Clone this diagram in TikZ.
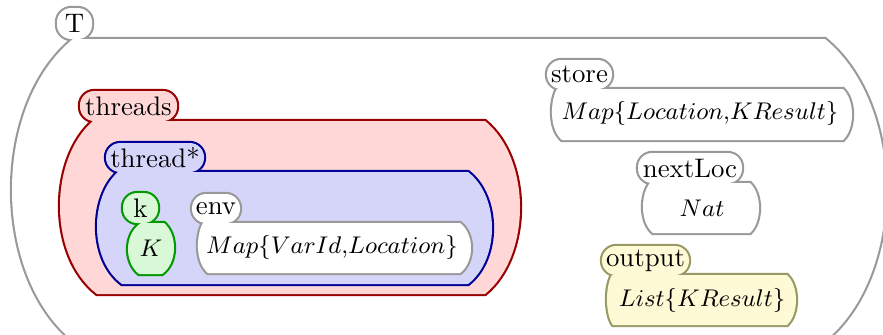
\documentclass[tikz,border=0pt]{standalone}
\definecolor{kgray}{HTML}{999999}
\definecolor{kred}{HTML}{990000}
\definecolor{kredf}{HTML}{FFD7D7}
\definecolor{kblue}{HTML}{000099}
\definecolor{kbluef}{HTML}{D5D5FA}
\definecolor{kgreen}{HTML}{009900}
\definecolor{kgreenf}{HTML}{D8F8D8}
\definecolor{kolive}{HTML}{999966}
\definecolor{kolivef}{HTML}{FFFAD6}
\tikzset{
  body/.style n args={8}{insert path={(#1,#4) -- (#6,#4)
    .. controls ({#6+(#7-#6)/0.75},{#4+0.22*(#5-#4)}) and ({#8+(#7-#8)/0.75},{#5-0.22*(#5-#4)}) .. (#8,#5)
    -- (#3,#5)
    .. controls ({#3+(#2-#3)/0.75},{#5-0.22*(#5-#4)}) and ({#1+(#2-#1)/0.75},{#4+0.22*(#5-#4)}) .. (#1,#4) -- cycle}},
  tabr/.style={rounded corners=5.3pt},
  cellstroke/.style={draw=#1, line width=1.6pt},
  lbl/.style={inner sep=0pt},
  cnt/.style={inner sep=0pt, font=\fontsize{9.3}{11}\selectfont},
}
\begin{document}
\begin{tikzpicture}[x=0.373pt,y=-0.373pt]
\useasboundingbox (0,0) rectangle (883,334);
\clip (0,0) rectangle (883,334);
% T
\path[cellstroke=kgray, body={73}{12}{73}{39}{341}{825}{886}{825}];
\path[cellstroke=kgray, tabr] (57,8) rectangle (92,39);
\path[fill=white, body={73}{12}{73}{39}{341}{825}{886}{825}];
\path[fill=white, tabr] (57,8) rectangle (92,39);
\node[lbl] (tT) at (74.5,23.5) {T};
% threads
\path[cellstroke=kred, body={93}{60}{97}{121}{294}{485}{520}{485}];
\path[cellstroke=kred, tabr] (80,91) rectangle (177,121);
\path[fill=kredf, body={93}{60}{97}{121}{294}{485}{520}{485}];
\path[fill=kredf, tabr] (80,91) rectangle (177,121);
\node[lbl] (tThreads) at (128.5,106) {threads};
% thread*
\path[cellstroke=kblue, body={118}{97}{122}{172}{284}{468}{492}{468}];
\path[cellstroke=kblue, tabr] (106,143) rectangle (204,172);
\path[fill=kbluef, body={118}{97}{122}{172}{284}{468}{492}{468}];
\path[fill=kbluef, tabr] (106,143) rectangle (204,172);
\node[lbl] (tThread) at (155,157.5) {thread*};
% k
\path[cellstroke=kgreen, body={141}{128}{139}{223}{274}{164}{174}{162}];
\path[cellstroke=kgreen, tabr] (123,193) rectangle (158,223);
\path[fill=kgreenf, body={141}{128}{139}{223}{274}{164}{174}{162}];
\path[fill=kgreenf, tabr] (123,193) rectangle (158,223);
\node[lbl] (tK) at (140.5,208) {k};
\node[cnt] (cK) at (151,248) {$K$};
% env
\path[cellstroke=kgray, body={203}{198}{208}{223}{273}{460}{471}{460}];
\path[cellstroke=kgray, tabr] (192,194) rectangle (240,223);
\path[fill=white, body={203}{198}{208}{223}{273}{460}{471}{460}];
\path[fill=white, tabr] (192,194) rectangle (240,223);
\node[lbl] (tEnv) at (216,208.5) {env};
\node[cnt] (cEnv) at (332,247) {$Map\{VarId{,}Location\}$};
% store
\path[cellstroke=kgray, body={557}{552}{562}{89}{140}{843}{852}{843}];
\path[cellstroke=kgray, tabr] (547,60) rectangle (612,89);
\path[fill=white, body={557}{552}{562}{89}{140}{843}{852}{843}];
\path[fill=white, tabr] (547,60) rectangle (612,89);
\node[lbl] (tStore) at (579.5,74.5) {store};
\node[cnt] (cStore) at (700,113) {$Map\{Location{,}KResult\}$};
% nextLoc
\path[cellstroke=kgray, body={650}{643}{653}{183}{233}{750}{759}{750}];
\path[cellstroke=kgray, tabr] (638,153) rectangle (742,183);
\path[fill=white, body={650}{643}{653}{183}{233}{750}{759}{750}];
\path[fill=white, tabr] (638,153) rectangle (742,183);
\node[lbl] (tNext) at (690,168) {nextLoc};
\node[cnt] (cNext) at (702,208) {$Nat$};
% output
\path[cellstroke=kolive, body={612}{607}{613}{275}{325}{787}{796}{787}];
\path[cellstroke=kolive, tabr] (602,246) rectangle (689,275);
\path[fill=kolivef, body={612}{607}{613}{275}{325}{787}{796}{787}];
\path[fill=kolivef, tabr] (602,246) rectangle (689,275);
\node[lbl] (tOut) at (645.5,260.5) {output};
\node[cnt] (cOut) at (702,300) {$List\{KResult\}$};
\end{tikzpicture}
\end{document}
